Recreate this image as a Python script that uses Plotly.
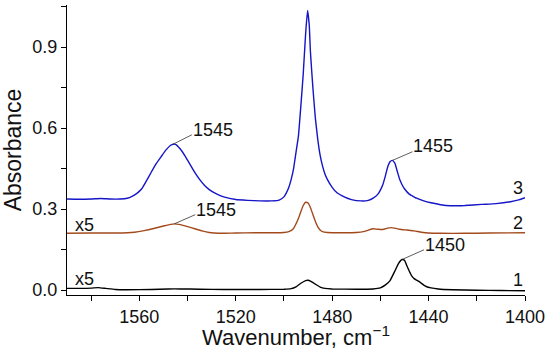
import plotly.graph_objects as go

# ---- data ----
wn3 = [1590, 1585, 1580, 1576, 1572, 1568, 1565, 1563, 1561, 1559, 1557, 1555, 1553, 1551, 1549, 1547, 1546,
       1545, 1543, 1541, 1539, 1537, 1535, 1533, 1531, 1528, 1525, 1520, 1515, 1510, 1505, 1502, 1500, 1499,
       1498, 1497, 1496, 1495, 1494, 1493, 1492, 1491, 1490.2, 1489.5, 1489, 1488, 1487, 1486, 1485, 1484,
       1483, 1482, 1480, 1478, 1475, 1472, 1468, 1465, 1463, 1461, 1460, 1459, 1458, 1457, 1456, 1455, 1454,
       1453, 1452, 1451, 1450, 1448, 1447, 1445, 1442, 1439, 1435, 1431, 1425, 1418, 1412, 1406, 1403, 1400]
ab3 = [0.337, 0.336, 0.337, 0.339, 0.337, 0.337, 0.340, 0.347, 0.358, 0.375, 0.405, 0.437, 0.468, 0.493, 0.518,
       0.536, 0.540, 0.539, 0.522, 0.496, 0.466, 0.436, 0.410, 0.388, 0.372, 0.356, 0.345, 0.335, 0.332, 0.330,
       0.330, 0.333, 0.345, 0.360, 0.380, 0.410, 0.450, 0.510, 0.570, 0.680, 0.800, 0.950, 1.035, 0.980, 0.880,
       0.750, 0.640, 0.560, 0.500, 0.460, 0.430, 0.410, 0.380, 0.360, 0.345, 0.335, 0.330, 0.332, 0.340, 0.355,
       0.370, 0.390, 0.420, 0.455, 0.475, 0.480, 0.470, 0.440, 0.410, 0.390, 0.375, 0.355, 0.350, 0.340, 0.330,
       0.323, 0.316, 0.312, 0.313, 0.317, 0.320, 0.327, 0.333, 0.342]

wn2 = [1590, 1580, 1570, 1565, 1562, 1558, 1554, 1550, 1547, 1545.5, 1543, 1540, 1537, 1534, 1531, 1527, 1520,
       1512, 1505, 1500, 1498, 1496, 1495, 1494, 1493, 1492, 1491, 1490, 1489, 1488, 1487, 1486, 1485, 1484,
       1482, 1475, 1470, 1467, 1465, 1463, 1461, 1459, 1457, 1455.5, 1454, 1452, 1449, 1446, 1443, 1440, 1435,
       1425, 1415, 1400]
ab2 = [0.210, 0.211, 0.211, 0.212, 0.214, 0.220, 0.228, 0.237, 0.243, 0.245, 0.242, 0.235, 0.227, 0.219, 0.213,
       0.210, 0.211, 0.212, 0.212, 0.213, 0.216, 0.228, 0.245, 0.265, 0.290, 0.313, 0.325, 0.322, 0.305, 0.280,
       0.255, 0.235, 0.222, 0.216, 0.213, 0.212, 0.213, 0.216, 0.222, 0.227, 0.225, 0.224, 0.229, 0.231, 0.229,
       0.225, 0.222, 0.219, 0.214, 0.211, 0.210, 0.210, 0.211, 0.212]

wn1 = [1590, 1585, 1580, 1577, 1574, 1570, 1565, 1555, 1548, 1543, 1535, 1525, 1510, 1500, 1497, 1495, 1493,
       1491, 1490, 1489, 1487, 1485, 1483, 1480, 1470, 1463, 1460, 1458, 1456, 1454, 1452.5, 1451, 1450, 1449,
       1448, 1447, 1446, 1445, 1444, 1443, 1442, 1441, 1439, 1436, 1430, 1420, 1410, 1400]
ab1 = [0.006, 0.006, 0.007, 0.009, 0.006, 0.002, 0.001, 0.002, 0.004, 0.004, 0.003, 0.002, 0.002, 0.003, 0.005,
       0.012, 0.025, 0.035, 0.036, 0.033, 0.022, 0.011, 0.006, 0.004, 0.003, 0.004, 0.008, 0.018, 0.035, 0.070,
       0.098, 0.113, 0.110, 0.090, 0.070, 0.052, 0.042, 0.037, 0.032, 0.025, 0.018, 0.013, 0.008, 0.004, 0.001,
       -0.001, -0.002, -0.003]

# peak labels: text, peak (x, y), leader end (x, y), text centre y
peak_text = ["1545", "1545", "1455", "1450"]
peak_x = [1546, 1545.5, 1455, 1451]
peak_y = [0.540, 0.245, 0.480, 0.113]
lab_x = [1538.2, 1536.8, 1446.7, 1441.9]
lab_y = [0.575, 0.279, 0.512, 0.149]
lab_ty = [0.593, 0.296, 0.533, 0.167]

curve_names = ["3", "2", "1"]
curve_label_y = [0.377, 0.247, 0.037]
scale_text = ["x5", "x5"]
scale_y = [0.241, 0.040]

ytick_vals = [0.0, 0.3, 0.6, 0.9]
xtick_vals = [1560, 1520, 1480, 1440, 1400]

FONT = "Arial, Liberation Sans, sans-serif"

fig = go.Figure()
fig.add_trace(go.Scatter(x=wn1, y=ab1, mode="lines", line=dict(color="#000000", width=1.4, shape="spline", smoothing=0.4)))
fig.add_trace(go.Scatter(x=wn2, y=ab2, mode="lines", line=dict(color="#a34a1c", width=1.4, shape="spline", smoothing=0.4)))
fig.add_trace(go.Scatter(x=wn3, y=ab3, mode="lines", line=dict(color="#1414c8", width=1.4, shape="spline", smoothing=0.4)))

for t, px, py, lx, ly, ty in zip(peak_text, peak_x, peak_y, lab_x, lab_y, lab_ty):
    fig.add_shape(type="line", x0=px, y0=py, x1=lx, y1=ly, xref="x", yref="y",
                  line=dict(color="#333333", width=0.8))
    fig.add_annotation(x=lx, y=ty, text=t, showarrow=False, xanchor="left", yanchor="middle",
                       xshift=-1, font=dict(family=FONT, size=18, color="#111111"))

for t, y in zip(curve_names, curve_label_y):
    fig.add_annotation(x=1400, y=y, text=t, showarrow=False, xanchor="right", yanchor="middle",
                       font=dict(family=FONT, size=18, color="#111111"))

for t, y in zip(scale_text, scale_y):
    fig.add_annotation(x=1587.6, y=y, text=t, showarrow=False, xanchor="left", yanchor="middle",
                       font=dict(family=FONT, size=18, color="#111111"))

fig.update_layout(
    width=550, height=350,
    margin=dict(l=67, r=25, t=5, b=55, autoexpand=False),
    paper_bgcolor="white", plot_bgcolor="white",
    showlegend=False,
    font=dict(family=FONT, size=18, color="#111111"),
)
fig.update_xaxes(
    automargin=False,
    range=[1590, 1400], tickvals=xtick_vals, ticktext=[str(v) for v in xtick_vals],
    showline=True, linecolor="black", linewidth=1, showgrid=False, zeroline=False,
    ticks="outside", ticklen=5, tickwidth=1, tickcolor="black",
    minor=dict(dtick=20, tick0=1400, ticks="outside", ticklen=5, tickwidth=1, tickcolor="black", showgrid=False),
    tickfont=dict(family=FONT, size=18),
    title=dict(text="Wavenumber, cm<sup>\u22121</sup>", font=dict(family=FONT, size=22), standoff=4),
)
fig.update_yaxes(
    automargin=False,
    range=[-0.0185, 1.0556], tickvals=ytick_vals, ticktext=["%.1f" % v for v in ytick_vals],
    showline=True, linecolor="black", linewidth=1, showgrid=False, zeroline=False,
    ticks="outside", ticklen=5, tickwidth=1, tickcolor="black",
    minor=dict(dtick=0.15, tick0=0, ticks="outside", ticklen=5, tickwidth=1, tickcolor="black", showgrid=False),
    tickfont=dict(family=FONT, size=18),
    title=dict(text="Absorbance", font=dict(family=FONT, size=23), standoff=4),
)

fig.write_html("out.html", config={"displayModeBar": False},
               post_script="document.body.style.margin='0';document.body.style.overflow='hidden';")
